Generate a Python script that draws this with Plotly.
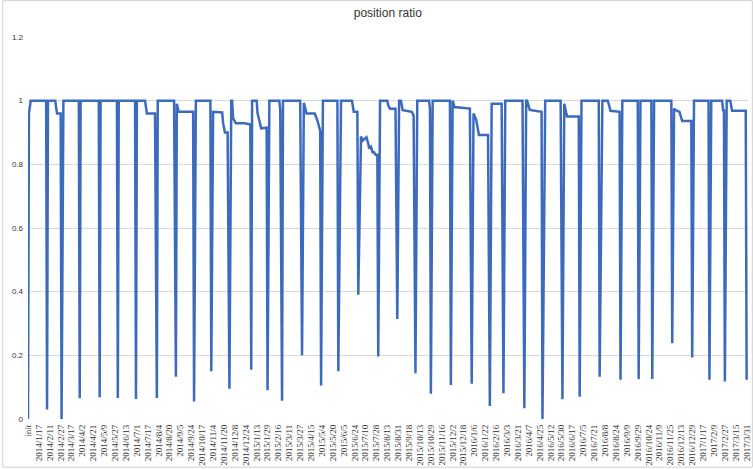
import plotly.graph_objects as go

# category index of each vertex of the line (0 = "init", one step per trading day)
day_index = [0, 1, 3, 20, 21, 22, 30, 32, 36, 37, 39, 56, 57, 58, 78, 79, 80, 98, 99, 100,
             118, 119, 120, 129, 131, 140, 142, 143, 161, 163, 164, 166, 182, 183, 185,
             201, 202, 204, 214, 215, 217, 220, 222, 224, 225, 226, 229, 239, 245, 246,
             247, 252, 253, 257, 263, 264, 266, 277, 278, 280, 281, 300, 302, 304, 307,
             316, 319, 322, 323, 325, 341, 342, 345, 357, 359, 363, 364, 366, 367, 369,
             373, 375, 376, 378, 380, 381, 383, 385, 386, 388, 396, 397, 399, 405, 407,
             409, 411, 413, 423, 425, 427, 429, 442, 443, 444, 446, 465, 466, 468, 470,
             487, 489, 491, 494, 497, 507, 509, 511, 522, 524, 526, 545, 547, 549, 550,
             553, 566, 567, 570, 587, 589, 591, 594, 607, 608, 610, 629, 630, 633, 639,
             642, 652, 653, 655, 672, 673, 675, 687, 688, 690, 709, 710, 712, 714, 718,
             721, 731, 732, 734, 750, 751, 753, 765, 766, 767, 768, 770, 774, 776, 791, 792]

position_ratio = [0.0, 0.96, 1.0, 1.0, 0.03, 1.0, 1.0, 0.96, 0.96, 0.0, 1.0, 1.0, 0.065, 1.0,
                  1.0, 0.068, 1.0, 1.0, 0.066, 1.0,
                  1.0, 0.063, 1.0, 1.0, 0.96, 0.96, 0.066, 1.0, 1.0, 0.133, 0.99, 0.965, 0.965, 0.055, 1.0,
                  1.0, 0.15, 0.965, 0.963, 0.93, 0.90, 0.90, 0.095, 1.0, 1.0, 0.945, 0.929, 0.929, 0.925, 0.155,
                  1.0, 1.0, 0.96, 0.913, 0.915, 0.09, 1.0, 1.0, 0.97, 0.057, 1.0, 1.0, 0.20, 0.993, 0.96,
                  0.96, 0.937, 0.905, 0.105, 1.0, 1.0, 0.15, 1.0, 1.0, 0.965, 0.965, 0.39, 0.80, 0.887, 0.875,
                  0.885, 0.865, 0.85, 0.855, 0.835, 0.84, 0.83, 0.83, 0.196, 1.0, 1.0, 0.985, 0.975, 0.975, 0.314,
                  1.0, 1.0, 0.97, 0.965, 0.953, 0.144, 1.0, 1.0, 0.975, 0.079, 1.0, 1.0, 0.107, 1.0, 0.98,
                  0.975, 0.111, 0.96, 0.94, 0.892, 0.892, 0.041, 0.99, 0.99, 0.081, 1.0, 1.0, 0.034, 1.0, 1.0,
                  0.971, 0.965, 0.0, 1.0, 1.0, 0.062, 0.99, 0.95, 0.95, 0.07, 1.0, 1.0, 0.133, 1.0, 1.0,
                  0.968, 0.965, 0.123, 1.0, 1.0, 0.126, 1.0, 1.0, 0.126, 1.0, 1.0, 0.238, 0.975, 0.97, 0.965,
                  0.936, 0.936, 0.193, 1.0, 1.0, 0.123, 1.0, 1.0, 0.97, 0.97, 0.118, 1.0, 1.0, 0.968, 0.968, 0.123]

tick_labels = ["init", "2014/1/17", "2014/2/11", "2014/2/27", "2014/3/17", "2014/4/2", "2014/4/21",
               "2014/5/9", "2014/5/27", "2014/6/13", "2014/7/1", "2014/7/17", "2014/8/4", "2014/8/20",
               "2014/9/5", "2014/9/24", "2014/10/17", "2014/11/4", "2014/11/20", "2014/12/8",
               "2014/12/24", "2015/1/13", "2015/1/29", "2015/2/16", "2015/3/11", "2015/3/27",
               "2015/4/15", "2015/5/4", "2015/5/20", "2015/6/5", "2015/6/24", "2015/7/10",
               "2015/7/28", "2015/8/13", "2015/8/31", "2015/9/18", "2015/10/13", "2015/10/29",
               "2015/11/16", "2015/12/2", "2015/12/18", "2016/1/6", "2016/1/22", "2016/2/16",
               "2016/3/3", "2016/3/21", "2016/4/7", "2016/4/25", "2016/5/12", "2016/5/30",
               "2016/6/17", "2016/7/5", "2016/7/21", "2016/8/8", "2016/8/24", "2016/9/9",
               "2016/9/29", "2016/10/24", "2016/11/9", "2016/11/25", "2016/12/13", "2016/12/29",
               "2017/1/17", "2017/2/9", "2017/2/27", "2017/3/15", "2017/3/31"]
label_step = 12
tick_positions = [i * label_step for i in range(len(tick_labels))]

fig = go.Figure()
fig.add_trace(go.Scatter(x=day_index, y=position_ratio, mode="lines",
                         line=dict(color="#3C6BBE", width=2.5), hoverinfo="x+y"))

fig.update_layout(
    width=753, height=469,
    margin=dict(l=28, r=5, t=37, b=50, autoexpand=False),
    paper_bgcolor="white", plot_bgcolor="white",
    showlegend=False,
    title=dict(text="position ratio", x=0.515, xanchor="center", y=0.972, yanchor="middle",
               font=dict(family="Liberation Sans, Arial", size=12, color="#333333")),
    xaxis=dict(range=[0, 793.5], tickmode="array", tickvals=tick_positions, ticktext=tick_labels,
               tickangle=-90, showgrid=False, zeroline=False, showline=False, ticks="",
               automargin=False, ticklabelstandoff=3,
               tickfont=dict(family="Liberation Serif, Times New Roman", size=9, color="#333333")),
    yaxis=dict(range=[0, 1.2], dtick=0.2, tickformat="~g", showgrid=True, gridcolor="#D9D9D9",
               gridwidth=1, zeroline=False, showline=False, ticks="", automargin=False,
               ticklabelstandoff=4,
               tickfont=dict(family="Liberation Sans, Arial", size=8, color="#333333")),
    shapes=[dict(type="rect", xref="paper", yref="paper",
                 x0=-0.035, x1=1.006, y0=-0.126, y1=1.095,
                 line=dict(color="#D0D0D0", width=1), fillcolor="rgba(0,0,0,0)", layer="below")],
)

fig.write_html("out.html", config={"displayModeBar": False},
               post_script="document.body.style.margin='0';document.body.style.overflow='hidden';")
